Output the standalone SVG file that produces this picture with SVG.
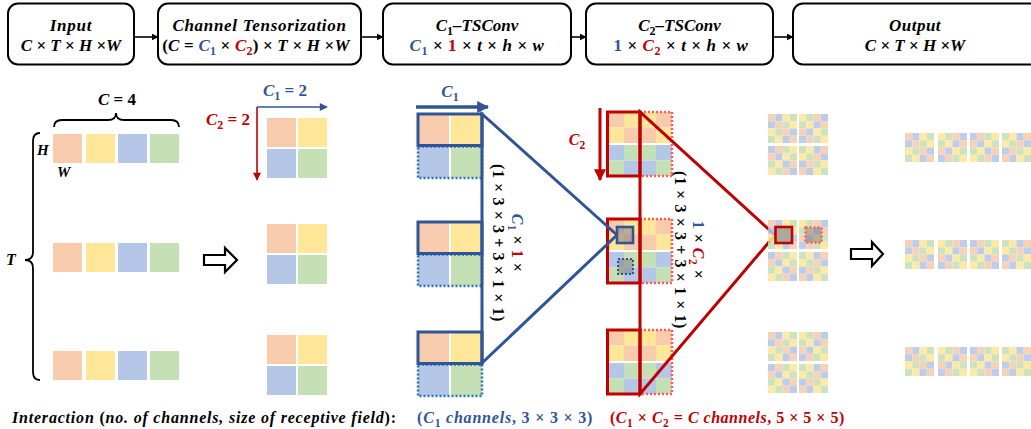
<svg xmlns="http://www.w3.org/2000/svg" xmlns:xlink="http://www.w3.org/1999/xlink" width="1031" height="429" viewBox="0 0 1031 429">
  <style>
    .m { font-family: "Liberation Serif", "DejaVu Serif", serif; font-weight: bold; font-style: italic; }
    .n { font-style: normal; }
    .blue { fill: #2F5597; }
    .red { fill: #C00000; }
    .o { fill: #F8CBAD; }
    .y { fill: #FFE699; }
    .b { fill: #B4C7E7; }
    .g { fill: #C5E0B4; }
    .box { fill: #FFFFFF; stroke: #000000; stroke-width: 2; }
    .link { stroke: #000000; stroke-width: 1.6; fill: none; }
    .hollow { fill: #FFFFFF; stroke: #000000; stroke-width: 2.2; stroke-linejoin: miter; }
    .brace { fill: none; stroke: #000000; stroke-width: 1.8; }
    .fade { opacity: 0.88; }
    .selgray { fill: #7F7F7F; fill-opacity: 0.55; }
  </style>
  <defs>
    <marker id="ahBlack" viewBox="0 0 10 10" refX="9" refY="5" markerWidth="7" markerHeight="7" markerUnits="userSpaceOnUse" orient="auto">
      <path d="M0,0 L10,5 L0,10 z" fill="#000000"/>
    </marker>
    <marker id="ahBlueThin" viewBox="0 0 10 10" refX="9" refY="5" markerWidth="9" markerHeight="8" markerUnits="userSpaceOnUse" orient="auto">
      <path d="M0,0 L10,5 L0,10 z" fill="#2F5597"/>
    </marker>
    <marker id="ahRedThin" viewBox="0 0 10 10" refX="9" refY="5" markerWidth="9" markerHeight="8" markerUnits="userSpaceOnUse" orient="auto">
      <path d="M0,0 L10,5 L0,10 z" fill="#C00000"/>
    </marker>
    <marker id="ahBlueThick" viewBox="0 0 10 10" refX="9" refY="5" markerWidth="12" markerHeight="12" markerUnits="userSpaceOnUse" orient="auto">
      <path d="M0,0 L10,5 L0,10 z" fill="#2F5597"/>
    </marker>
    <marker id="ahRedThick" viewBox="0 0 10 10" refX="9" refY="5" markerWidth="12" markerHeight="12" markerUnits="userSpaceOnUse" orient="auto">
      <path d="M0,0 L10,5 L0,10 z" fill="#C00000"/>
    </marker>

    <!-- 4x4 mixed-channel tiles, 29 x 29 -->
    <g id="q0">
      <rect class="o" x="0" y="0" width="7.25" height="7.25"/><rect class="b" x="7.25" y="0" width="7.25" height="7.25"/><rect class="y" x="14.5" y="0" width="7.25" height="7.25"/><rect class="g" x="21.75" y="0" width="7.25" height="7.25"/>
      <rect class="b" x="0" y="7.25" width="7.25" height="7.25"/><rect class="o" x="7.25" y="7.25" width="7.25" height="7.25"/><rect class="g" x="14.5" y="7.25" width="7.25" height="7.25"/><rect class="y" x="21.75" y="7.25" width="7.25" height="7.25"/>
      <rect class="y" x="0" y="14.5" width="7.25" height="7.25"/><rect class="g" x="7.25" y="14.5" width="7.25" height="7.25"/><rect class="o" x="14.5" y="14.5" width="7.25" height="7.25"/><rect class="b" x="21.75" y="14.5" width="7.25" height="7.25"/>
      <rect class="g" x="0" y="21.75" width="7.25" height="7.25"/><rect class="y" x="7.25" y="21.75" width="7.25" height="7.25"/><rect class="b" x="14.5" y="21.75" width="7.25" height="7.25"/><rect class="o" x="21.75" y="21.75" width="7.25" height="7.25"/>
    </g>
    <g id="q1">
      <rect class="y" x="0" y="0" width="7.25" height="7.25"/><rect class="g" x="7.25" y="0" width="7.25" height="7.25"/><rect class="o" x="14.5" y="0" width="7.25" height="7.25"/><rect class="b" x="21.75" y="0" width="7.25" height="7.25"/>
      <rect class="g" x="0" y="7.25" width="7.25" height="7.25"/><rect class="y" x="7.25" y="7.25" width="7.25" height="7.25"/><rect class="b" x="14.5" y="7.25" width="7.25" height="7.25"/><rect class="o" x="21.75" y="7.25" width="7.25" height="7.25"/>
      <rect class="o" x="0" y="14.5" width="7.25" height="7.25"/><rect class="b" x="7.25" y="14.5" width="7.25" height="7.25"/><rect class="y" x="14.5" y="14.5" width="7.25" height="7.25"/><rect class="g" x="21.75" y="14.5" width="7.25" height="7.25"/>
      <rect class="b" x="0" y="21.75" width="7.25" height="7.25"/><rect class="o" x="7.25" y="21.75" width="7.25" height="7.25"/><rect class="g" x="14.5" y="21.75" width="7.25" height="7.25"/><rect class="y" x="21.75" y="21.75" width="7.25" height="7.25"/>
    </g>
    <g id="q2">
      <rect class="b" x="0" y="0" width="7.25" height="7.25"/><rect class="o" x="7.25" y="0" width="7.25" height="7.25"/><rect class="g" x="14.5" y="0" width="7.25" height="7.25"/><rect class="y" x="21.75" y="0" width="7.25" height="7.25"/>
      <rect class="o" x="0" y="7.25" width="7.25" height="7.25"/><rect class="b" x="7.25" y="7.25" width="7.25" height="7.25"/><rect class="y" x="14.5" y="7.25" width="7.25" height="7.25"/><rect class="g" x="21.75" y="7.25" width="7.25" height="7.25"/>
      <rect class="g" x="0" y="14.5" width="7.25" height="7.25"/><rect class="y" x="7.25" y="14.5" width="7.25" height="7.25"/><rect class="b" x="14.5" y="14.5" width="7.25" height="7.25"/><rect class="o" x="21.75" y="14.5" width="7.25" height="7.25"/>
      <rect class="y" x="0" y="21.75" width="7.25" height="7.25"/><rect class="g" x="7.25" y="21.75" width="7.25" height="7.25"/><rect class="o" x="14.5" y="21.75" width="7.25" height="7.25"/><rect class="b" x="21.75" y="21.75" width="7.25" height="7.25"/>
    </g>
    <g id="q3">
      <rect class="g" x="0" y="0" width="7.25" height="7.25"/><rect class="y" x="7.25" y="0" width="7.25" height="7.25"/><rect class="b" x="14.5" y="0" width="7.25" height="7.25"/><rect class="o" x="21.75" y="0" width="7.25" height="7.25"/>
      <rect class="y" x="0" y="7.25" width="7.25" height="7.25"/><rect class="g" x="7.25" y="7.25" width="7.25" height="7.25"/><rect class="o" x="14.5" y="7.25" width="7.25" height="7.25"/><rect class="b" x="21.75" y="7.25" width="7.25" height="7.25"/>
      <rect class="b" x="0" y="14.5" width="7.25" height="7.25"/><rect class="o" x="7.25" y="14.5" width="7.25" height="7.25"/><rect class="g" x="14.5" y="14.5" width="7.25" height="7.25"/><rect class="y" x="21.75" y="14.5" width="7.25" height="7.25"/>
      <rect class="o" x="0" y="21.75" width="7.25" height="7.25"/><rect class="b" x="7.25" y="21.75" width="7.25" height="7.25"/><rect class="y" x="14.5" y="21.75" width="7.25" height="7.25"/><rect class="g" x="21.75" y="21.75" width="7.25" height="7.25"/>
    </g>
    <!-- 2x2 arrangement of tiles -->
    <g id="quad">
      <use href="#q0" x="0" y="0"/><use href="#q1" x="31" y="0"/>
      <use href="#q2" x="0" y="32"/><use href="#q3" x="31" y="32"/>
    </g>
    <!-- row of four tiles -->
    <g id="quadRow">
      <use href="#q0" x="0" y="0"/><use href="#q1" x="33" y="0"/>
      <use href="#q2" x="65" y="0"/><use href="#q3" x="97" y="0"/>
    </g>

    <!-- C2 shift block: 4 columns x 4 rows -->
    <g id="c2blk">
      <rect class="o" x="0" y="0" width="16" height="15.5"/><rect class="y" x="16" y="0" width="16" height="15.5"/><rect class="y" x="32" y="0" width="16" height="15.5"/><rect class="o" x="48" y="0" width="16" height="15.5"/>
      <rect class="y" x="0" y="15.5" width="16" height="15.5"/><rect class="o" x="16" y="15.5" width="16" height="15.5"/><rect class="o" x="32" y="15.5" width="16" height="15.5"/><rect class="y" x="48" y="15.5" width="16" height="15.5"/>
      <rect class="b" x="0" y="33" width="16" height="15.5"/><rect class="g" x="16" y="33" width="16" height="15.5"/><rect class="g" x="32" y="33" width="16" height="15.5"/><rect class="b" x="48" y="33" width="16" height="15.5"/>
      <rect class="g" x="0" y="48.5" width="16" height="15.5"/><rect class="b" x="16" y="48.5" width="16" height="15.5"/><rect class="b" x="32" y="48.5" width="16" height="15.5"/><rect class="g" x="48" y="48.5" width="16" height="15.5"/>
    </g>

    <!-- plain channel squares -->
    <g id="row4">
      <rect class="o" x="0" y="0" width="29" height="29"/><rect class="y" x="33" y="0" width="29" height="29"/>
      <rect class="b" x="65" y="0" width="29" height="29"/><rect class="g" x="97" y="0" width="29" height="29"/>
    </g>
    <g id="grid2">
      <rect class="o" x="0" y="0" width="29" height="29"/><rect class="y" x="31" y="0" width="29" height="29"/>
      <rect class="b" x="0" y="31" width="29" height="29"/><rect class="g" x="31" y="31" width="29" height="29"/>
    </g>
    <g id="c1blk">
      <rect class="o" x="0" y="0" width="31" height="31"/><rect class="y" x="33" y="0" width="31" height="31"/>
      <rect class="b" x="0" y="33" width="31" height="31"/><rect class="g" x="33" y="33" width="31" height="31"/>
      <rect x="0" y="32.5" width="64" height="31.5" fill="none" stroke="#2E75B6" stroke-width="2.6" stroke-dasharray="2 2"/>
      <rect x="0" y="0" width="64" height="31.5" fill="none" stroke="#2F5597" stroke-width="3"/>
    </g>
  </defs>

  <!-- pipeline header -->
  <g id="node-input">
    <rect class="box" x="8" y="3.5" width="126" height="61" rx="10"/>
    <text class="m" x="71" y="31" font-size="17" text-anchor="middle" letter-spacing="0.8">Input</text>
    <text class="m" x="71" y="51" font-size="17" text-anchor="middle">C <tspan class="n">×</tspan> T <tspan class="n">×</tspan> H <tspan class="n">×</tspan>W</text>
  </g>
  <g id="node-tensorization">
    <rect class="box" x="158" y="3.5" width="203" height="61" rx="10"/>
    <text class="m" x="259.5" y="31" font-size="17" text-anchor="middle" letter-spacing="0.7">Channel Tensorization</text>
    <text class="m" x="256" y="51" font-size="17" text-anchor="middle" letter-spacing="0.2"><tspan class="n">(</tspan>C <tspan class="n">=</tspan> <tspan class="blue">C<tspan font-size="12" dy="4" class="n">1</tspan></tspan><tspan dy="-4"> </tspan><tspan class="n">×</tspan> <tspan class="red">C<tspan font-size="12" dy="4" class="n">2</tspan></tspan><tspan dy="-4" class="n">)</tspan> <tspan class="n">×</tspan> T <tspan class="n">×</tspan> H <tspan class="n">×</tspan>W</text>
  </g>
  <g id="node-c1-tsconv">
    <rect class="box" x="383" y="3.5" width="188" height="61" rx="10"/>
    <text class="m" x="477" y="31" font-size="17" text-anchor="middle">C<tspan font-size="12" dy="4" class="n">1</tspan><tspan dy="-4">–TSConv</tspan></text>
    <text class="m" x="477" y="51" font-size="17" text-anchor="middle" letter-spacing="0.6"><tspan class="blue">C<tspan font-size="12" dy="4" class="n">1</tspan></tspan><tspan dy="-4"> </tspan><tspan class="n">×</tspan> <tspan class="n red">1</tspan> <tspan class="n">×</tspan> t <tspan class="n">×</tspan> h <tspan class="n">×</tspan> w</text>
  </g>
  <g id="node-c2-tsconv">
    <rect class="box" x="586" y="3.5" width="187" height="61" rx="10"/>
    <text class="m" x="679.5" y="31" font-size="17" text-anchor="middle">C<tspan font-size="12" dy="4" class="n">2</tspan><tspan dy="-4">–TSConv</tspan></text>
    <text class="m" x="681" y="51" font-size="17" text-anchor="middle" letter-spacing="0.6"><tspan class="n blue">1</tspan> <tspan class="n">×</tspan> <tspan class="red">C<tspan font-size="12" dy="4" class="n">2</tspan></tspan><tspan dy="-4"> </tspan><tspan class="n">×</tspan>  t <tspan class="n">×</tspan> h <tspan class="n">×</tspan> w</text>
  </g>
  <g id="node-output">
    <rect class="box" x="793" y="3.5" width="250" height="61" rx="10"/>
    <text class="m" x="915" y="31" font-size="17" text-anchor="middle" letter-spacing="0.5">Output</text>
    <text class="m" x="915" y="51" font-size="17" text-anchor="middle">C <tspan class="n">×</tspan> T <tspan class="n">×</tspan> H <tspan class="n">×</tspan>W</text>
  </g>

  <g id="connectors">
    <line class="link" x1="134" y1="37" x2="158" y2="37" marker-end="url(#ahBlack)"/>
    <line class="link" x1="361" y1="37" x2="383" y2="37" marker-end="url(#ahBlack)"/>
    <line class="link" x1="571" y1="37" x2="586" y2="37" marker-end="url(#ahBlack)"/>
    <line class="link" x1="773" y1="37" x2="793" y2="37" marker-end="url(#ahBlack)"/>
  </g>

  <!-- input tensor: C = 4 channels over T frames -->
  <g id="input-tensor">
    <path class="brace" d="M54,127 Q54,120 62,120 L108,120 Q116,120 116,113 Q116,120 124,120 L171,120 Q179,120 179,127"/>
    <text class="m" x="117" y="105" font-size="17" text-anchor="middle">C <tspan class="n">=</tspan> <tspan class="n">4</tspan></text>
    <path class="brace" d="M40,133 Q33,133 33,141 L33,252 Q33,260 25,260 Q33,260 33,268 L33,372 Q33,380 40,380"/>
    <text class="m" x="11" y="265" font-size="16" text-anchor="middle">T</text>
    <text class="m" x="37" y="155" font-size="15">H</text>
    <text class="m" x="57" y="177" font-size="15">W</text>
    <use href="#row4" x="53" y="134"/>
    <use href="#row4" x="53" y="243"/>
    <use href="#row4" x="53" y="351"/>
  </g>

  <polygon id="arrow-reshape" class="hollow" points="204,255 225,255 225,248 237,260 225,272 225,265 204,265"/>

  <!-- tensorized channels: C1 x C2 grid -->
  <g id="tensorized">
    <line x1="257" y1="107" x2="327" y2="107" stroke="#2F5597" stroke-width="1.6" marker-end="url(#ahBlueThin)"/>
    <line x1="257" y1="107" x2="257" y2="180" stroke="#C00000" stroke-width="1.6" marker-end="url(#ahRedThin)"/>
    <text class="m blue" x="285" y="96" font-size="17" text-anchor="middle">C<tspan font-size="12" dy="4" class="n">1</tspan><tspan dy="-4"> </tspan><tspan class="n">=</tspan> <tspan class="n">2</tspan></text>
    <text class="m red" x="250" y="125" font-size="17" text-anchor="end">C<tspan font-size="12" dy="4" class="n">2</tspan><tspan dy="-4"> </tspan><tspan class="n">=</tspan> <tspan class="n">2</tspan></text>
    <use href="#grid2" x="267" y="118"/>
    <use href="#grid2" x="267" y="224"/>
    <use href="#grid2" x="267" y="335"/>
  </g>

  <!-- C2-TSConv inputs (shifted) and receptive field -->
  <g id="c2-stage">
    <line x1="600" y1="108" x2="600" y2="180" stroke="#C00000" stroke-width="3" marker-end="url(#ahRedThick)"/>
    <text class="m red" x="577" y="145" font-size="16" text-anchor="middle">C<tspan font-size="11.5" dy="4" class="n">2</tspan></text>
    <use href="#c2blk" x="608" y="112"/>
    <use href="#c2blk" x="608" y="219"/>
    <use href="#c2blk" x="608" y="330"/>
    <g fill="none" stroke="#FF5B5B" stroke-width="2.6" stroke-dasharray="2 2">
      <rect x="640" y="112" width="32" height="64"/>
      <rect x="640" y="219" width="32" height="64"/>
      <rect x="640" y="330" width="32" height="64"/>
    </g>
    <g fill="none" stroke="#C00000" stroke-width="3">
      <rect x="607.5" y="112" width="32.5" height="64"/>
      <rect x="607.5" y="219" width="32.5" height="64"/>
      <rect x="607.5" y="330" width="32.5" height="64"/>
    </g>
    <rect class="selgray" x="618" y="259" width="15" height="15" stroke="#2F5597" stroke-width="2" stroke-dasharray="2 2"/>
    <polyline points="775,235 640,112 640,394 775,235" fill="none" stroke="#C00000" stroke-width="3" stroke-linejoin="miter"/>
    <g transform="translate(689,250) rotate(90)">
      <text class="m" x="0" y="-3.5" font-size="16" text-anchor="middle" letter-spacing="0.5"><tspan class="n blue">1</tspan> <tspan class="n">×</tspan> <tspan class="red">C<tspan font-size="11.5" dy="4" class="n">2</tspan></tspan><tspan dy="-4"> </tspan><tspan class="n">×</tspan></text>
      <text class="m n" x="0" y="14.5" font-size="16" text-anchor="middle" letter-spacing="0.6">(1 × 3 × 3 + 3 × 1 × 1)</text>
    </g>
  </g>

  <!-- C1-TSConv inputs and receptive field -->
  <g id="c1-stage">
    <line x1="416" y1="107" x2="488" y2="107" stroke="#2F5597" stroke-width="3.5" marker-end="url(#ahBlueThick)"/>
    <text class="m blue" x="450" y="97" font-size="17" text-anchor="middle">C<tspan font-size="12" dy="4" class="n">1</tspan></text>
    <use href="#c1blk" x="418" y="114"/>
    <use href="#c1blk" x="418" y="222"/>
    <use href="#c1blk" x="418" y="332"/>
    <polyline points="617,235 482,114 482,363 617,235" fill="none" stroke="#2F5597" stroke-width="3" stroke-linejoin="miter"/>
    <rect class="selgray" x="617" y="227" width="16" height="16" stroke="#2F5597" stroke-width="2.6"/>
    <g transform="translate(507,243) rotate(90)">
      <text class="m" x="0" y="-4.5" font-size="16" text-anchor="middle" letter-spacing="0.5"><tspan class="blue">C<tspan font-size="11.5" dy="4" class="n">1</tspan></tspan><tspan dy="-4"> </tspan><tspan class="n">×</tspan> <tspan class="n red">1</tspan> <tspan class="n">×</tspan></text>
      <text class="m n" x="0" y="14.5" font-size="16" text-anchor="middle" letter-spacing="0.6">(1 × 3 × 3 + 3 × 1 × 1)</text>
    </g>
  </g>

  <!-- mixed channels after C2-TSConv -->
  <g id="mixed">
    <g class="fade">
      <use href="#quad" x="768" y="114"/>
      <use href="#quad" x="768" y="220"/>
      <use href="#quad" x="768" y="332"/>
    </g>
    <rect class="selgray" x="775.5" y="227" width="16.5" height="16" stroke="#C00000" stroke-width="2.6"/>
    <rect class="selgray" x="805.5" y="227.5" width="16" height="15" stroke="#FF5B5B" stroke-width="2.4" stroke-dasharray="2 2"/>
  </g>

  <polygon id="arrow-restore" class="hollow" points="851,249 872,249 872,242 883,254 872,266 872,259 851,259"/>

  <!-- output tensor -->
  <g id="output-tensor" class="fade">
    <use href="#quadRow" x="905" y="133"/>
    <use href="#quadRow" x="905" y="240"/>
    <use href="#quadRow" x="905" y="347"/>
  </g>

  <!-- legend line -->
  <g id="legend">
    <text class="m" x="12" y="423" font-size="16" letter-spacing="0.8">Interaction <tspan class="n">(</tspan>no. of channels, size of receptive field<tspan class="n">):</tspan></text>
    <text class="m blue" x="417" y="423" font-size="16" letter-spacing="0.8"><tspan class="n">(</tspan>C<tspan font-size="11.5" dy="4" class="n">1</tspan><tspan dy="-4"> channels</tspan><tspan class="n">, 3 × 3 × 3)</tspan></text>
    <text class="m red" x="610" y="423" font-size="16" letter-spacing="0.5"><tspan class="n">(</tspan>C<tspan font-size="11.5" dy="4" class="n">1</tspan><tspan dy="-4"> </tspan><tspan class="n">×</tspan> C<tspan font-size="11.5" dy="4" class="n">2</tspan><tspan dy="-4"> </tspan><tspan class="n">=</tspan> C channels<tspan class="n">, 5 × 5 × 5)</tspan></text>
  </g>
</svg>
